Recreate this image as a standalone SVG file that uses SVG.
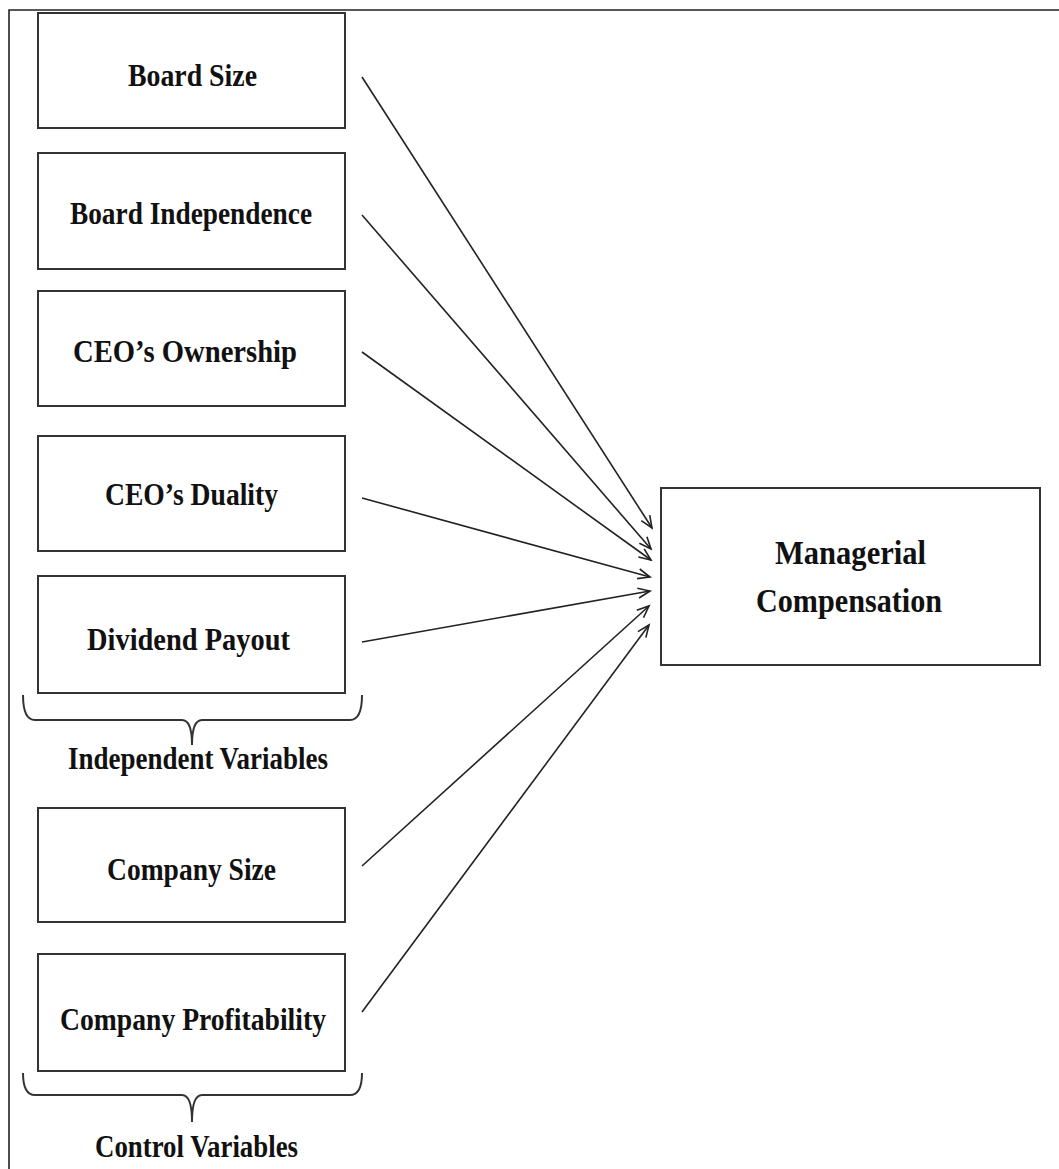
<svg xmlns="http://www.w3.org/2000/svg" width="1059" height="1169" viewBox="0 0 1059 1169">
<style>
.box{fill:#fff;stroke:#333;stroke-width:2}
.lbl{font-family:"Liberation Serif","Times New Roman",serif;font-weight:bold;font-size:31px;fill:#111;text-anchor:middle}
.big{font-size:33px}
.conn{stroke:#222;stroke-width:1.6;fill:none;marker-end:url(#arr)}
.brace{stroke:#333;stroke-width:2;fill:none}
</style>
<defs>
<marker id="arr" markerUnits="userSpaceOnUse" markerWidth="16" markerHeight="14" refX="13" refY="6" orient="auto">
<path d="M1,1 L13,6 L1,11" fill="none" stroke="#222" stroke-width="1.6"/>
</marker>
</defs>
<rect width="1059" height="1169" fill="#fff"/>
<path d="M9,1169 L9,10 L1059,10" fill="none" stroke="#222" stroke-width="1.6"/>

<g id="board-size"><rect class="box" x="38" y="13" width="307" height="115"/><text class="lbl" x="192.5" y="86" textLength="129" lengthAdjust="spacingAndGlyphs">Board Size</text></g>
<g id="board-independence"><rect class="box" x="38" y="153" width="307" height="116"/><text class="lbl" x="191" y="224" textLength="242" lengthAdjust="spacingAndGlyphs">Board Independence</text></g>
<g id="ceo-ownership"><rect class="box" x="38" y="291" width="307" height="115"/><text class="lbl" x="185" y="362" textLength="224" lengthAdjust="spacingAndGlyphs">CEO’s Ownership</text></g>
<g id="ceo-duality"><rect class="box" x="38" y="436" width="307" height="115"/><text class="lbl" x="191.5" y="505" textLength="173" lengthAdjust="spacingAndGlyphs">CEO’s Duality</text></g>
<g id="dividend-payout"><rect class="box" x="38" y="576" width="307" height="117"/><text class="lbl" x="188.5" y="650" textLength="203" lengthAdjust="spacingAndGlyphs">Dividend Payout</text></g>
<g id="company-size"><rect class="box" x="38" y="808" width="307" height="114"/><text class="lbl" x="191.5" y="880" textLength="169" lengthAdjust="spacingAndGlyphs">Company Size</text></g>
<g id="company-profitability"><rect class="box" x="38" y="954" width="307" height="117"/><text class="lbl" x="193" y="1030" textLength="266" lengthAdjust="spacingAndGlyphs">Company Profitability</text></g>
<g id="managerial-compensation"><rect class="box" x="661" y="488" width="379" height="177"/><text class="lbl big" x="850.5" y="564" textLength="151" lengthAdjust="spacingAndGlyphs">Managerial</text><text class="lbl big" x="849" y="612" textLength="186" lengthAdjust="spacingAndGlyphs">Compensation</text></g>

<g id="independent-variables"><path class="brace" d="M23,695 Q23,720 35,720 L182,720 Q192,720 192,745 M192,745 Q192,720 202,720 L350,720 Q362,720 362,695"/><text class="lbl" x="198" y="769" textLength="260" lengthAdjust="spacingAndGlyphs">Independent Variables</text></g>
<g id="control-variables"><path class="brace" d="M23,1073 Q23,1095 35,1095 L182,1095 Q192,1095 192,1122 M192,1122 Q192,1095 202,1095 L350,1095 Q362,1095 362,1073"/><text class="lbl" x="196.5" y="1157" textLength="203" lengthAdjust="spacingAndGlyphs">Control Variables</text></g>

<g id="connectors">
<line class="conn" x1="362" y1="77" x2="652" y2="528"/>
<line class="conn" x1="362" y1="215" x2="651" y2="549"/>
<line class="conn" x1="362" y1="352" x2="651" y2="560"/>
<line class="conn" x1="362" y1="498" x2="650" y2="577"/>
<line class="conn" x1="362" y1="642" x2="650" y2="591"/>
<line class="conn" x1="362" y1="866" x2="649" y2="606"/>
<line class="conn" x1="362" y1="1012" x2="649" y2="625"/>
</g>
</svg>
